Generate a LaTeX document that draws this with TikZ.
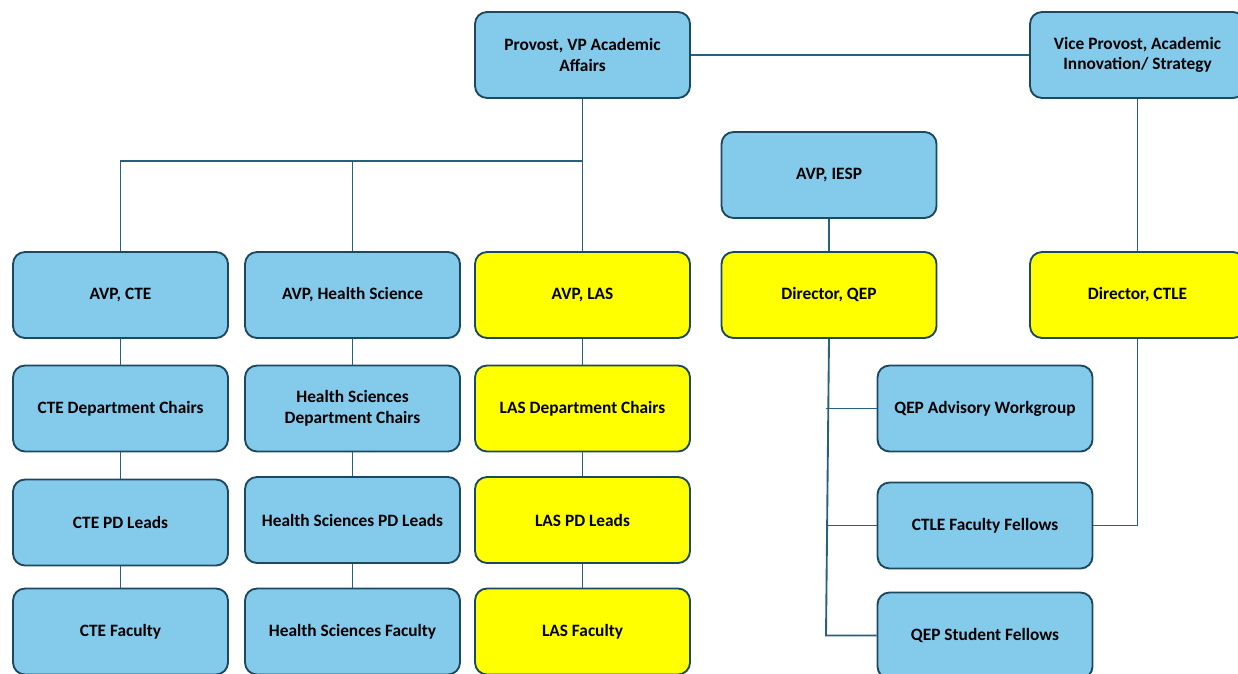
\documentclass[tikz,border=0pt]{standalone}
\usepackage{fontspec}
\setmainfont{Carlito}
\definecolor{boxblue}{RGB}{132,202,235}
\definecolor{boxyellow}{RGB}{255,255,0}
\definecolor{boxline}{RGB}{28,72,96}
\definecolor{conn}{RGB}{40,96,128}
\begin{document}
\begin{tikzpicture}[x=0.75pt,y=-0.75pt,
  orgbox/.style={draw=boxline,line width=1.4pt,rounded corners=9pt,
    minimum width=161.25pt,minimum height=64.5pt,align=center,
    font=\fontsize{13}{15.5}\selectfont\bfseries,text=black},
  bluebox/.style={orgbox,fill=boxblue},
  yellowbox/.style={orgbox,fill=boxyellow},
  link/.style={draw=conn,line width=1.4pt}]
\useasboundingbox (0,0) rectangle (1238,674);
% top
\node[bluebox] (prov) at (582.5,55) {Provost, VP Academic\\Affairs};
\node[bluebox] (vp) at (1137.5,55) {Vice Provost, Academic\\Innovation/ Strategy};
\node[bluebox] (iesp) at (829,175) {AVP, IESP};
% row 2
\node[bluebox] (cte) at (120.5,295) {AVP, CTE};
\node[bluebox] (hs) at (352.5,295) {AVP, Health Science};
\node[yellowbox] (las) at (582.5,295) {AVP, LAS};
\node[yellowbox] (qep) at (829,295) {Director, QEP};
\node[yellowbox] (ctle) at (1137.5,295) {Director, CTLE};
% row 3
\node[bluebox] (cted) at (120.5,408.5) {CTE Department Chairs};
\node[bluebox] (hsd) at (352.5,408.5) {Health Sciences\\Department Chairs};
\node[yellowbox] (lasd) at (582.5,408.5) {LAS Department Chairs};
\node[bluebox] (qepa) at (985,408.5) {QEP Advisory Workgroup};
% row 4
\node[bluebox] (ctep) at (120.5,522.5) {CTE PD Leads};
\node[bluebox] (hsp) at (352.5,520) {Health Sciences PD Leads};
\node[yellowbox] (lasp) at (582.5,520) {LAS PD Leads};
\node[bluebox] (ctlef) at (985,525.5) {CTLE Faculty Fellows};
% row 5
\node[bluebox] (ctef) at (120.5,631.5) {CTE Faculty};
\node[bluebox] (hsf) at (352.5,631.5) {Health Sciences Faculty};
\node[yellowbox] (lasf) at (582.5,631.5) {LAS Faculty};
\node[bluebox] (qeps) at (985,635.5) {QEP Student Fellows};
% connectors
\coordinate (bus) at (582.5,161);
\coordinate (qb) at (826,635.5);
\draw[link] (prov.east) -- (vp.west);
\draw[link] (prov.south) -- (las.north);
\draw[link] (cte.north) |- (bus);
\draw[link] (hs.north) -- (hs.north |- bus);
\draw[link] (iesp.south) -- (qep.north);
\draw[link] (vp.south) -- (ctle.north);
\draw[link] (cte.south) -- (cted.north);
\draw[link] (cted.south) -- (ctep.north);
\draw[link] (ctep.south) -- (ctef.north);
\draw[link] (hs.south) -- (hsd.north);
\draw[link] (hsd.south) -- (hsp.north);
\draw[link] (hsp.south) -- (hsf.north);
\draw[link] (las.south) -- (lasd.north);
\draw[link] (lasd.south) -- (lasp.north);
\draw[link] (lasp.south) -- (lasf.north);
\draw[link] (qep.south) -- (qb) -- (qeps.west);
\draw[link] (qepa.west) -- (qepa.west -| qb);
\draw[link] (ctlef.west) -- (ctlef.west -| qb);
\draw[link] (ctlef.east) -| (ctle.south);
\end{tikzpicture}
\end{document}
